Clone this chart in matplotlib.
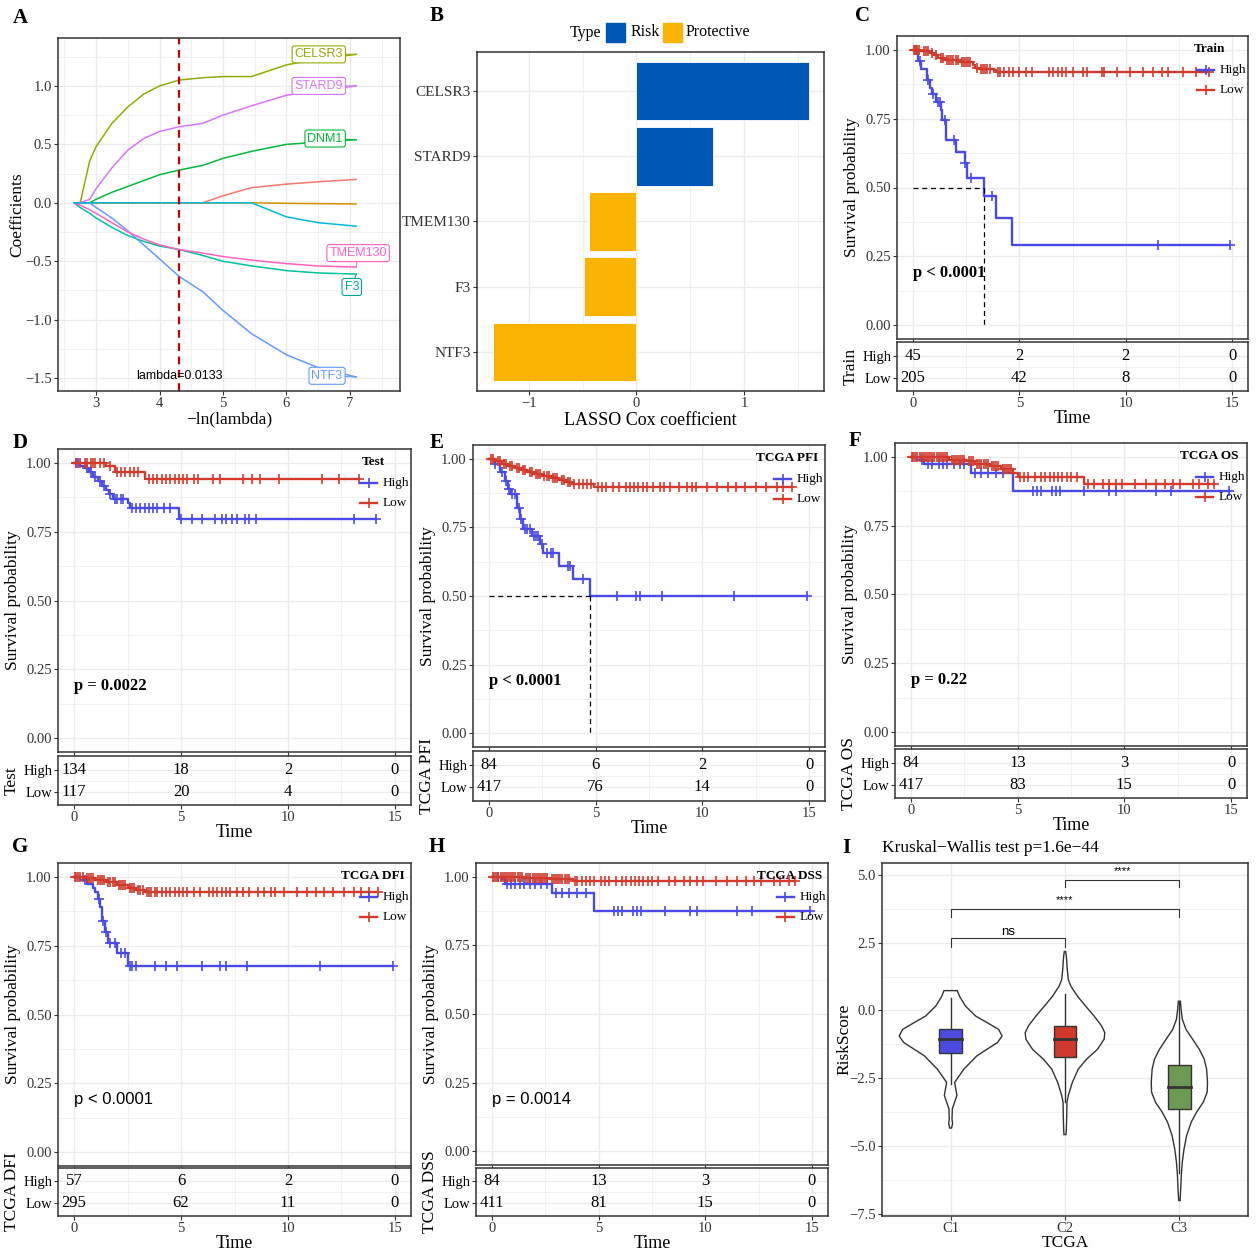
import numpy as np
import matplotlib
matplotlib.use("Agg")
import matplotlib.pyplot as plt
from matplotlib.patches import Rectangle

plt.rcParams['font.family'] = 'serif'
plt.rcParams['font.serif'] = ['Liberation Serif', 'DejaVu Serif']

# ---------------- data ----------------
# A: LASSO coefficient paths
lam = [2.65, 2.75, 2.9, 3.0, 3.25, 3.5, 3.75, 4.0, 4.31, 4.68, 5.0, 5.45, 6.0, 6.5, 7.1]
path_salmon = [0, 0, 0, 0, 0, 0, 0, 0, 0, 0.0, 0.06, 0.13, 0.16, 0.18, 0.20]
path_orange = [0, 0, 0, 0, 0, 0, 0, 0, 0, 0, 0, 0, -0.004, -0.007, -0.01]
path_celsr3 = [0, 0, 0.36, 0.48, 0.68, 0.82, 0.93, 1.00, 1.05, 1.07, 1.08, 1.08, 1.18, 1.23, 1.27]
path_dnm1 = [0, 0, 0, 0.03, 0.09, 0.14, 0.19, 0.24, 0.28, 0.32, 0.38, 0.44, 0.50, 0.52, 0.54]
path_f3 = [0, -0.04, -0.09, -0.13, -0.21, -0.28, -0.33, -0.37, -0.40, -0.45, -0.50, -0.54, -0.58, -0.60, -0.61]
path_cyan = [0, 0, 0, 0, 0, 0, 0, 0, 0, 0, 0, 0, -0.12, -0.17, -0.20]
path_ntf3 = [0, 0, 0, -0.04, -0.13, -0.24, -0.36, -0.48, -0.63, -0.76, -0.92, -1.12, -1.30, -1.41, -1.49]
path_stard9 = [0, 0, 0.03, 0.12, 0.30, 0.45, 0.55, 0.61, 0.65, 0.68, 0.75, 0.83, 0.92, 0.96, 1.00]
path_tmem130 = [0, -0.02, -0.06, -0.09, -0.17, -0.25, -0.31, -0.36, -0.40, -0.43, -0.46, -0.49, -0.52, -0.54, -0.55]
lambda_min = 4.31

# B: LASSO Cox coefficients
genes = ['CELSR3', 'STARD9', 'TMEM130', 'F3', 'NTF3']
coefs = [1.60, 0.71, -0.44, -0.49, -1.33]

# C: Train
c_high_t = [0.25, 0.4, 0.65, 0.8, 0.9, 1.1, 1.3, 1.35, 1.55, 2.0, 2.45, 2.55, 3.32, 3.9, 4.67]
c_high_s = [0.96, 0.93, 0.89, 0.86, 0.84, 0.81, 0.78, 0.745, 0.673, 0.63, 0.59, 0.536, 0.469, 0.39, 0.293]
c_high_cens = [0.35, 0.7, 0.95, 1.2, 1.25, 1.5, 1.95, 2.45, 2.75, 3.7, 11.5, 14.9]
c_low_t = [0.4, 0.8, 1.0, 1.2, 1.5, 2.2, 2.8, 2.9, 3.1, 3.8, 3.9]
c_low_s = [0.995, 0.99, 0.98, 0.97, 0.964, 0.955, 0.945, 0.935, 0.93, 0.925, 0.918]
c_low_cens = [0.05, 0.1, 0.15, 0.2, 0.3, 0.5, 0.6, 0.7, 0.9, 1.1, 1.3, 1.4, 1.6, 1.7, 1.8, 1.9, 2.0,
              2.1, 2.3, 2.4, 2.5, 2.6, 2.7, 3.0, 3.2, 3.3, 3.4, 3.5, 3.6, 4.0, 4.1, 4.3, 4.5, 4.7,
              5.0, 5.3, 5.6, 6.4, 6.6, 6.8, 7.0, 7.2, 7.5, 8.0, 8.2, 8.9, 9.0, 9.6, 10.2, 10.8,
              11.3, 11.7, 12.0, 12.7, 13.3, 13.9]
c_risk_high = [45, 2, 2, 0]
c_risk_low = [205, 42, 8, 0]

# D: Test
d_high_t = [0.3, 0.5, 0.7, 0.9, 1.1, 1.3, 1.5, 1.65, 1.8, 2.5, 2.6, 4.9]
d_high_s = [0.99, 0.98, 0.965, 0.95, 0.935, 0.915, 0.90, 0.885, 0.87, 0.855, 0.837, 0.795]
d_high_cens = [0.1, 0.2, 0.6, 0.8, 1.0, 1.2, 1.4, 1.7, 1.9, 2.0, 2.2, 2.3, 2.7, 2.9, 3.1, 3.3,
               3.5, 3.7, 3.9, 4.2, 4.5, 5.0, 5.5, 6.0, 6.6, 6.9, 7.1, 7.4, 7.6, 8.0, 8.2, 8.5,
               13.1, 14.1]
d_low_t = [1.5, 1.9, 3.3]
d_low_s = [0.99, 0.965, 0.94]
d_low_cens = [0.1, 0.3, 0.5, 0.6, 0.8, 0.9, 1.0, 1.2, 1.4, 1.7, 2.0, 2.2, 2.4, 2.6, 2.8, 3.0,
              3.5, 3.7, 3.9, 4.1, 4.3, 4.5, 4.7, 4.9, 5.1, 5.3, 5.6, 5.8, 6.5, 6.8, 7.9, 8.3,
              8.7, 9.6, 11.6, 12.4, 13.3]
d_risk_high = [134, 18, 2, 0]
d_risk_low = [117, 20, 4, 0]

# E: TCGA PFI
e_high_t = [0.28, 0.5, 0.73, 0.89, 1.05, 1.3, 1.45, 1.6, 2.0, 2.4, 2.55, 3.3, 3.95, 4.73]
e_high_s = [0.98, 0.95, 0.92, 0.89, 0.87, 0.82, 0.78, 0.745, 0.72, 0.69, 0.658, 0.61, 0.563, 0.50]
e_high_cens = [0.3, 0.6, 0.8, 0.95, 1.1, 1.2, 1.4, 1.5, 1.7, 1.8, 1.9, 2.1, 2.2, 2.3, 2.5, 2.7,
               2.9, 3.0, 3.7, 3.8, 4.4, 6.0, 6.9, 7.1, 8.1, 11.5, 14.9]
e_low_t = [0.3, 0.6, 0.9, 1.2, 1.5, 1.8, 2.1, 2.5, 2.9, 3.3, 3.6, 3.9, 4.9]
e_low_s = [0.99, 0.98, 0.975, 0.965, 0.958, 0.95, 0.945, 0.937, 0.93, 0.922, 0.915, 0.908, 0.898]
e_low_cens = [0.1, 0.2, 0.4, 0.5, 0.7, 0.8, 1.0, 1.1, 1.3, 1.4, 1.6, 1.7, 1.9, 2.0, 2.2, 2.3,
              2.4, 2.6, 2.7, 2.8, 3.0, 3.1, 3.2, 3.4, 3.5, 3.7, 3.8, 4.0, 4.2, 4.4, 4.6, 4.8,
              5.1, 5.3, 5.5, 5.8, 6.1, 6.4, 6.6, 6.8, 7.0, 7.2, 7.4, 7.7, 8.0, 8.2, 8.5, 8.9,
              9.3, 9.5, 9.7, 10.2, 10.7, 11.2, 11.6, 12.0, 12.5, 13.0, 13.5, 13.8, 14.2]
e_risk_high = [84, 6, 2, 0]
e_risk_low = [417, 76, 14, 0]

# F: TCGA OS
f_high_t = [0.3, 0.6, 2.8, 4.8]
f_high_s = [0.99, 0.975, 0.94, 0.875]
f_high_cens = [0.5, 0.8, 1.0, 1.3, 1.5, 1.7, 2.0, 2.3, 2.5, 3.0, 3.3, 3.6, 4.0, 4.3, 5.7, 5.9,
               6.1, 6.6, 6.8, 7.0, 8.1, 9.3, 9.6, 11.5, 12.2, 14.9]
f_low_t = [1.8, 2.6, 3.0, 3.7, 4.2, 4.8, 5.0, 8.1]
f_low_s = [0.99, 0.985, 0.975, 0.965, 0.955, 0.94, 0.927, 0.90]
f_low_cens = [0.05, 0.1, 0.2, 0.3, 0.4, 0.5, 0.6, 0.7, 0.8, 0.9, 1.0, 1.1, 1.2, 1.3, 1.4, 1.5,
              1.6, 1.7, 1.9, 2.0, 2.1, 2.2, 2.3, 2.4, 2.5, 2.7, 2.8, 2.9, 3.1, 3.2, 3.3, 3.4,
              3.5, 3.6, 3.8, 3.9, 4.0, 4.1, 4.3, 4.4, 4.5, 4.6, 4.7, 5.1, 5.3, 5.5, 5.8, 6.1,
              6.3, 6.5, 6.7, 6.9, 7.1, 7.3, 7.5, 7.8, 8.3, 8.6, 9.0, 9.3, 9.6, 9.9, 10.5, 11.0,
              11.5, 11.9, 12.3, 12.6, 13.2, 13.5, 13.9, 14.2]
f_risk_high = [84, 13, 3, 0]
f_risk_low = [417, 83, 15, 0]

# G: TCGA DFI
g_high_t = [0.3, 0.6, 0.9, 1.0, 1.1, 1.2, 1.3, 1.45, 1.6, 2.0, 2.5]
g_high_s = [0.99, 0.975, 0.96, 0.945, 0.92, 0.89, 0.84, 0.80, 0.76, 0.725, 0.677]
g_high_cens = [0.5, 1.15, 1.35, 1.5, 1.7, 1.9, 2.2, 2.4, 2.6, 2.7, 2.9, 3.8, 4.3, 4.8, 6.0,
               6.8, 7.1, 8.1, 11.5, 14.9]
g_low_t = [0.5, 1.0, 1.5, 2.0, 2.5, 2.9, 3.3]
g_low_s = [0.995, 0.99, 0.98, 0.97, 0.96, 0.952, 0.943]
g_low_cens = [0.05, 0.1, 0.2, 0.3, 0.4, 0.6, 0.7, 0.8, 0.9, 1.1, 1.2, 1.3, 1.4, 1.6, 1.7, 1.8,
              1.9, 2.1, 2.2, 2.3, 2.4, 2.6, 2.7, 2.8, 3.0, 3.1, 3.2, 3.4, 3.5, 3.6, 3.8, 3.9,
              4.1, 4.3, 4.5, 4.7, 4.9, 5.1, 5.3, 5.6, 5.9, 6.3, 6.5, 6.7, 6.9, 7.1, 7.3, 7.6,
              7.9, 8.2, 8.6, 8.9, 9.2, 9.4, 9.8, 10.4, 10.9, 11.3, 11.7, 12.1, 12.6, 13.1,
              13.4, 13.8, 14.2]
g_risk_high = [57, 6, 2, 0]
g_risk_low = [295, 62, 11, 0]

# H: TCGA DSS
h_high_t = [0.4, 0.6, 2.8, 4.8]
h_high_s = [0.99, 0.975, 0.94, 0.875]
h_high_cens = [0.3, 0.7, 0.9, 1.1, 1.3, 1.5, 1.8, 2.0, 2.3, 2.6, 3.0, 3.3, 3.6, 4.0, 4.4, 5.7,
               5.9, 6.1, 6.6, 6.8, 7.0, 8.1, 9.3, 9.6, 11.5, 12.2, 14.9]
h_low_t = [1.5, 2.7, 3.8]
h_low_s = [0.995, 0.99, 0.984]
h_low_cens = [0.05, 0.1, 0.2, 0.3, 0.4, 0.5, 0.6, 0.7, 0.8, 0.9, 1.0, 1.1, 1.2, 1.3, 1.4, 1.6,
              1.7, 1.8, 1.9, 2.0, 2.1, 2.2, 2.3, 2.4, 2.5, 2.6, 2.8, 2.9, 3.0, 3.1, 3.2, 3.3,
              3.4, 3.5, 3.6, 3.9, 4.0, 4.2, 4.4, 4.6, 4.8, 5.1, 5.3, 5.5, 5.8, 6.1, 6.3, 6.5,
              6.7, 6.9, 7.1, 7.3, 7.5, 7.8, 8.3, 8.6, 9.0, 9.3, 9.6, 9.9, 10.5, 11.0, 11.5,
              11.9, 12.3, 12.6, 13.2, 13.5, 13.9, 14.2]
h_risk_high = [84, 13, 3, 0]
h_risk_low = [411, 81, 15, 0]

risk_times = [0, 5, 10, 15]

# I: RiskScore by cluster (violin outline)
clusters = ['C1', 'C2', 'C3']
c1_y = [0.73, 0.52, 0.16, -0.21, -0.45, -0.70, -0.94, -1.18, -1.67, -2.16, -2.65, -3.13, -3.62, -3.99, -4.17, -4.33]
c1_w = [0.058, 0.078, 0.13, 0.22, 0.32, 0.42, 0.45, 0.41, 0.23, 0.116, 0.035, 0.055, 0.015, 0.012, 0.017, 0.008]
c2_y = [2.17, 1.99, 1.50, 1.13, 0.89, 0.52, 0.16, -0.21, -0.57, -0.82, -1.06, -1.43, -1.79, -2.16, -2.65, -3.13, -3.38, -3.87, -4.35, -4.57]
c2_w = [0.006, 0.012, 0.02, 0.029, 0.052, 0.11, 0.18, 0.255, 0.32, 0.348, 0.342, 0.284, 0.19, 0.116, 0.064, 0.029, 0.017, 0.015, 0.012, 0.009]
c3_y = [0.34, 0.04, -0.33, -0.70, -1.06, -1.43, -1.79, -2.16, -2.65, -3.01, -3.38, -3.74, -4.11, -4.60, -5.09, -5.57, -6.06, -6.55, -7.0]
c3_w = [0.009, 0.015, 0.026, 0.058, 0.116, 0.174, 0.217, 0.238, 0.246, 0.243, 0.209, 0.151, 0.104, 0.064, 0.041, 0.026, 0.017, 0.012, 0.006]
box_low = [-2.71, -3.38, -6.0]
box_q1 = [-1.57, -1.71, -3.62]
box_med = [-1.06, -1.06, -2.83]
box_q3 = [-0.67, -0.57, -2.00]
box_high = [0.46, 0.59, 0.30]

# ---------------- helpers ----------------
W, H = 1257, 1253
fig = plt.figure(figsize=(W / 100, H / 100), dpi=100)
GRID = '#EBEBEB'
FRAME = '#333333'
HIGH_C = '#4A4AE6'
LOW_C = '#D23A2C'


def add_ax(box):
    x0, y0, x1, y1 = box
    return fig.add_axes([x0 / W, 1 - y1 / H, (x1 - x0) / W, (y1 - y0) / H])


def style(ax, fs=10.5):
    for s in ax.spines.values():
        s.set_color(FRAME)
        s.set_linewidth(1.1)
    ax.tick_params(which='major', length=3, width=0.8, color=FRAME, labelsize=fs,
                   labelcolor='#333333', pad=1.5)
    ax.tick_params(which='minor', length=0)
    ax.grid(True, which='major', color=GRID, lw=1.0)
    ax.grid(True, which='minor', color=GRID, lw=0.5)
    ax.set_axisbelow(True)


def fig_letter(x, y, s):
    fig.text(x / W, 1 - y / H, s, fontsize=15, fontweight='bold', ha='center', va='center')


def draw_curve(ax, times, surv, end, cens, color):
    t = [0] + times + [end]
    s = [1.0] + surv + [surv[-1]]
    ax.step(t, s, where='post', color=color, lw=1.7)
    idx = np.searchsorted(times, cens, side='right')
    sv = np.r_[1.0, surv][idx]
    ax.plot(cens, sv, '+', color=color, ms=6.5, mew=1.2)


def km(box, tbox, high, low, rh, rl, strata, ptext, pbold, median=None):
    ax = add_ax(box)
    style(ax)
    wpx = box[2] - box[0]
    hpx = box[3] - box[1]
    draw_curve(ax, *high, HIGH_C)
    draw_curve(ax, *low, LOW_C)
    if median is not None:
        ax.plot([0, median], [0.5, 0.5], color='black', ls=(0, (4, 3)), lw=0.9)
        ax.plot([median, median], [0.5, 0], color='black', ls=(0, (4, 3)), lw=0.9)
    ax.set_xlim(-0.75, 15.75)
    ax.set_ylim(-0.05, 1.05)
    ax.set_xticks(risk_times)
    ax.set_xticklabels([])
    ax.set_xticks([2.5, 7.5, 12.5], minor=True)
    ax.set_yticks([0, 0.25, 0.5, 0.75, 1.0])
    ax.set_yticklabels(['0.00', '0.25', '0.50', '0.75', '1.00'])
    ax.set_yticks([0.125, 0.375, 0.625, 0.875], minor=True)
    ax.set_ylabel('Survival probability', fontsize=12.5)
    ax.yaxis.set_label_coords(-37 / wpx, 0.5)
    if pbold:
        ax.text(0, 0.19, ptext, fontsize=12, fontweight='bold', va='center')
    else:
        ax.text(0, 0.19, ptext, fontsize=12, family='Liberation Sans', va='center')
    # legend
    ax.text(1 - 38 / wpx, 1 - 13 / hpx, strata, transform=ax.transAxes, fontsize=9.5,
            fontweight='bold', ha='center', va='center')
    for k, (lab, col) in enumerate([('High', HIGH_C), ('Low', LOW_C)]):
        yy = 1 - (34 + 20 * k) / hpx
        ax.plot([1 - 51 / wpx, 1 - 34 / wpx], [yy, yy], color=col, lw=1.7,
                transform=ax.transAxes, clip_on=False)
        ax.plot([1 - 42.5 / wpx], [yy], '+', color=col, ms=6.5, mew=1.2,
                transform=ax.transAxes, clip_on=False)
        ax.text(1 - 28 / wpx, yy, lab, transform=ax.transAxes, fontsize=9.5, va='center')
    # risk table
    tx = add_ax(tbox)
    style(tx)
    tx.set_xlim(-0.75, 15.75)
    tx.set_ylim(0.4, 2.62)
    tx.set_xticks(risk_times)
    tx.set_xticks([2.5, 7.5, 12.5], minor=True)
    tx.set_yticks([1, 2])
    tx.set_yticklabels(['Low', 'High'], fontsize=10.5, color='black')
    tx.tick_params(axis='y', labelcolor='black', pad=1)
    tx.set_yticks([1.5], minor=True)
    for t, a, b in zip(risk_times, rh, rl):
        tx.text(t, 2, str(a), ha='center', va='center', fontsize=12)
        tx.text(t, 1, str(b), ha='center', va='center', fontsize=12)
    tx.set_ylabel(strata, fontsize=12.5)
    tx.yaxis.set_label_coords(-38 / wpx, 0.5)
    tx.set_xlabel('Time', fontsize=13, labelpad=0)
    return ax


# ---------------- A ----------------
axA = add_ax((58, 38, 400, 391))
style(axA)
paths = [(path_salmon, '#F8766D'), (path_orange, '#D39200'), (path_celsr3, '#93AA00'),
         (path_dnm1, '#00BA38'), (path_f3, '#00C19F'), (path_ntf3, '#619CFF'),
         (path_stard9, '#DB72FB'), (path_tmem130, '#FF61C3'), (path_cyan, '#00B9E3')]
for vals, col in paths:
    axA.plot(lam, vals, color=col, lw=1.1)
axA.axvline(lambda_min, color='#C00000', ls=(0, (3.5, 2.5)), lw=1.6)
axA.set_xlim(2.40, 7.79)
axA.set_ylim(-1.61, 1.41)
axA.set_xticks([3, 4, 5, 6, 7])
axA.set_xticks([2.5, 3.5, 4.5, 5.5, 6.5, 7.5], minor=True)
axA.set_yticks([-1.5, -1.0, -0.5, 0.0, 0.5, 1.0])
axA.set_yticks([-1.25, -0.75, -0.25, 0.25, 0.75, 1.25], minor=True)
axA.set_ylabel('Coefficients', fontsize=12.5)
axA.yaxis.set_label_coords(-33 / 342, 0.5)
axA.set_xlabel('\u2212ln(lambda)', fontsize=12.5, labelpad=1)
axA.text(lambda_min, -1.48, 'lambda=0.0133', family='Liberation Sans', fontsize=9,
         ha='center', va='center')
gene_labels = [('CELSR3', path_celsr3, '#93AA00', 6.51, 1.27),
               ('STARD9', path_stard9, '#DB72FB', 6.51, 1.00),
               ('DNM1', path_dnm1, '#00BA38', 6.61, 0.55),
               ('TMEM130', path_tmem130, '#FF61C3', 7.13, -0.43),
               ('F3', path_f3, '#00A89A', 7.03, -0.72),
               ('NTF3', path_ntf3, '#619CFF', 6.64, -1.48)]
for name, vals, col, lx, ly in gene_labels:
    axA.annotate(name, xy=(lam[-1], vals[-1]), xytext=(lx, ly), color=col,
                 family='Liberation Sans', fontsize=9, ha='center', va='center',
                 bbox=dict(boxstyle='round,pad=0.2', fc='white', ec=col, lw=0.8),
                 arrowprops=dict(arrowstyle='-', color=col, lw=0.8, shrinkA=0, shrinkB=0))

# ---------------- B ----------------
axB = add_ax((477, 52, 824, 391))
style(axB)
ypos = np.arange(len(genes))[::-1] + 1
cols = ['#0057B5' if c > 0 else '#F9B300' for c in coefs]
axB.barh(ypos, coefs, height=0.9, color=cols, edgecolor='white', lw=0.6)
axB.set_xlim(-1.48, 1.74)
axB.set_ylim(0.4, 5.6)
axB.set_yticks(ypos)
axB.set_yticklabels(genes, fontsize=11)
axB.set_xticks([-1, 0, 1])
axB.set_xticklabels(['\u22121', '0', '1'])
axB.set_xticks([-0.5, 0.5, 1.5], minor=True)
axB.set_xlabel('LASSO Cox coefficient', fontsize=13, labelpad=1)
fig.text(585 / W, 1 - 33 / H, 'Type', fontsize=11.5, ha='center', va='center')
fig.patches.append(Rectangle((606 / W, 1 - 42 / H), 19 / W, 19 / H, color='#0057B5',
                             transform=fig.transFigure, figure=fig))
fig.text(645 / W, 1 - 32 / H, 'Risk', fontsize=11.5, ha='center', va='center')
fig.patches.append(Rectangle((663 / W, 1 - 42 / H), 19 / W, 19 / H, color='#F9B300',
                             transform=fig.transFigure, figure=fig))
fig.text(718 / W, 1 - 32 / H, 'Protective', fontsize=11.5, ha='center', va='center')

# ---------------- KM panels ----------------
km((897, 36, 1248, 339), (897, 342, 1248, 391),
   (c_high_t, c_high_s, 14.9, c_high_cens), (c_low_t, c_low_s, 13.9, c_low_cens),
   c_risk_high, c_risk_low, 'Train', 'p < 0.0001', True, median=3.32)
km((58, 449, 411, 752), (58, 756, 411, 805),
   (d_high_t, d_high_s, 14.1, d_high_cens), (d_low_t, d_low_s, 13.3, d_low_cens),
   d_risk_high, d_risk_low, 'Test', 'p = 0.0022', True)
km((473, 445, 825, 747), (473, 751, 825, 801),
   (e_high_t, e_high_s, 14.9, e_high_cens), (e_low_t, e_low_s, 14.2, e_low_cens),
   e_risk_high, e_risk_low, 'TCGA PFI', 'p < 0.0001', True, median=4.73)
km((895, 443, 1247, 746), (895, 749, 1247, 798),
   (f_high_t, f_high_s, 14.9, f_high_cens), (f_low_t, f_low_s, 14.2, f_low_cens),
   f_risk_high, f_risk_low, 'TCGA OS', 'p = 0.22', True)
km((58, 863, 411, 1166), (58, 1168, 411, 1216),
   (g_high_t, g_high_s, 14.9, g_high_cens), (g_low_t, g_low_s, 14.2, g_low_cens),
   g_risk_high, g_risk_low, 'TCGA DFI', 'p < 0.0001', False)
km((476, 863, 828, 1165), (476, 1168, 828, 1216),
   (h_high_t, h_high_s, 14.9, h_high_cens), (h_low_t, h_low_s, 14.2, h_low_cens),
   h_risk_high, h_risk_low, 'TCGA DSS', 'p = 0.0014', False)

# ---------------- I ----------------
axI = add_ax((882, 863, 1248, 1216))
style(axI)
vio = [(c1_y, c1_w), (c2_y, c2_w), (c3_y, c3_w)]
box_cols = ['#4B4BE0', '#D0382B', '#6B9A52']
for i, (vy, vw) in enumerate(vio):
    x = i + 1
    vy = np.array(vy)
    vw = np.array(vw)
    xs = np.r_[x - vw, (x + vw)[::-1]]
    ys = np.r_[vy, vy[::-1]]
    axI.fill(xs, ys, facecolor='white', edgecolor='#333333', lw=1.0, zorder=2)
    axI.plot([x, x], [box_low[i], box_high[i]], color='#333333', lw=1.0, zorder=3)
    axI.add_patch(Rectangle((x - 0.1, box_q1[i]), 0.2, box_q3[i] - box_q1[i],
                            facecolor=box_cols[i], edgecolor='#333333', lw=1.0, zorder=4))
    axI.plot([x - 0.1, x + 0.1], [box_med[i]] * 2, color='#333333', lw=2.0, zorder=5)
brackets = [(1, 2, 2.65, 2.35, 'ns', 2.9, 9.5), (1, 3, 3.72, 3.45, '****', 4.05, 8),
            (2, 3, 4.82, 4.55, '****', 5.15, 8)]
for a, b, top, bot, lab, ty, fs in brackets:
    axI.plot([a, a, b, b], [bot, top, top, bot], color='#333333', lw=0.8)
    axI.text((a + b) / 2, ty, lab, ha='center', va='center', fontsize=fs,
             family='Liberation Sans')
axI.set_xlim(0.4, 3.6)
axI.set_ylim(-7.57, 5.43)
axI.set_xticks([1, 2, 3])
axI.set_xticklabels(clusters)
axI.set_yticks([-7.5, -5.0, -2.5, 0.0, 2.5, 5.0])
axI.set_yticks([-6.25, -3.75, -1.25, 1.25, 3.75], minor=True)
axI.set_ylabel('RiskScore', fontsize=12.5)
axI.yaxis.set_label_coords(-30 / 366, 0.5)
axI.set_xlabel('TCGA', fontsize=12.5, labelpad=0)
fig.text(882 / W, 1 - 848 / H, 'Kruskal\u2212Wallis test p=1.6e\u221244', fontsize=12.5,
         va='center')

# panel letters
for x, y, s in [(20, 18, 'A'), (437, 16, 'B'), (862, 16, 'C'), (20, 443, 'D'), (437, 443, 'E'),
                (855, 441, 'F'), (20, 847, 'G'), (437, 847, 'H'), (846, 848, 'I')]:
    fig_letter(x, y, s)

fig.savefig('out.png', dpi=100)
